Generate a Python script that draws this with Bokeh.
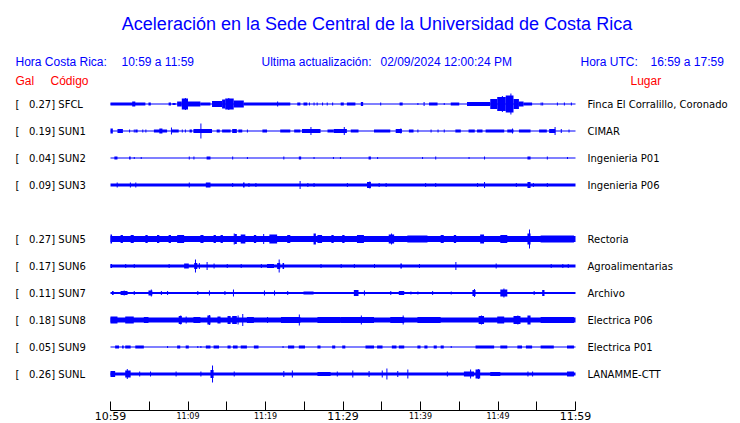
from bokeh.plotting import figure
from bokeh.models import Range1d, LinearAxis, FixedTicker, ColumnDataSource
from bokeh.core.properties import value
from bokeh.embed import file_html
from bokeh.resources import INLINE

# ---------------- data ----------------
ROWS = [0, 1, 2, 3, 5, 6, 7, 8, 9, 10]
GAL = [0.27, 0.19, 0.04, 0.09, 0.27, 0.17, 0.11, 0.18, 0.05, 0.26]
CODES = ["SFCL", "SUN1", "SUN2", "SUN3", "SUN5", "SUN6", "SUN7", "SUN8", "SUN9", "SUNL"]
PLACES = ["Finca El Corralillo, Coronado", "CIMAR", "Ingenieria P01", "Ingenieria P06",
          "Rectoria", "Agroalimentarias", "Archivo", "Electrica P06", "Electrica P01", "LANAMME-CTT"]

# background envelope half-amplitude of each trace (display px)
BASE = [0.5, 0.5, 0.5, 1.5, 3.0, 1.5, 1.0, 2.5, 0.5, 1.5]

# bursts: (start minute, end minute, half amplitude)
SFCL_B = [(0, 4.5, 1.5), (2.8, 3.2, 2.5), (4.9, 5.2, 1.5), (7.5, 7.8, 1.5), (8.0, 8.4, 1.0), (8.6, 9.2, 2.5),
          (9.2, 10.0, 5.5), (10.0, 11.6, 2.5), (11.6, 12.9, 1.5), (13.1, 14.4, 3.0), (14.4, 14.8, 4.5),
          (14.8, 15.9, 5.5), (15.9, 17.2, 3.5), (17.2, 23.2, 1.5), (24.1, 24.5, 1.5), (24.9, 25.4, 1.5),
          (29.7, 30.1, 1.5), (30.5, 31.6, 1.5), (32.3, 32.6, 2.0), (37.3, 37.7, 1.5), (41.1, 42.2, 1.5),
          (43.9, 45.0, 1.5), (46.0, 49.0, 2.0), (49.0, 49.9, 5.0), (49.9, 51.0, 7.0), (51.0, 52.0, 8.5),
          (52.0, 52.7, 5.0), (52.7, 53.3, 2.5), (53.3, 54.4, 1.5)]
SUN1_B = [(0, 0.3, 2.5), (0.9, 1.6, 2.0), (3.2, 3.5, 1.5), (5.6, 7.3, 1.5), (6.3, 6.7, 2.5), (7.9, 8.8, 1.5),
          (10.2, 10.5, 1.5), (10.7, 13.1, 2.0), (13.7, 14.1, 1.5), (14.4, 15.5, 1.5), (15.7, 16.3, 2.0),
          (16.5, 17.0, 1.5), (19.6, 20.2, 1.5), (21.9, 23.2, 1.5), (23.7, 24.5, 1.5), (24.7, 27.1, 2.0),
          (28.0, 28.8, 1.5), (28.8, 30.5, 2.0), (31.0, 32.0, 1.5), (34.0, 36.1, 1.5), (36.8, 37.6, 2.0),
          (38.5, 39.1, 1.5), (44.5, 45.2, 1.5), (46.2, 47.0, 1.5), (47.3, 48.0, 1.5), (48.4, 50.8, 1.5),
          (51.2, 52.0, 1.5), (52.7, 54.2, 1.5), (55.3, 56.3, 1.5), (56.6, 57.4, 2.0)]
SUN2_B = [(0.5, 0.9, 1.5), (2.4, 2.6, 1.5), (12.4, 12.9, 1.5), (24.3, 24.6, 1.5), (33.3, 33.6, 1.5),
          (53.8, 54.2, 1.5)]
SUN3_B = [(12.3, 12.9, 2.5), (17.1, 17.3, 2.5), (33.1, 33.6, 3.0), (53.8, 54.2, 3.0)]
SUN5_B = [(0, 0.2, 4.5), (1.3, 1.6, 4.0), (2.6, 3.0, 4.0), (4.5, 4.8, 4.0), (6.0, 6.3, 4.0), (7.5, 7.8, 4.0),
          (8.6, 9.5, 4.0), (11.6, 12.0, 4.0), (13.3, 13.6, 4.0), (14.2, 14.5, 4.0), (16.0, 16.3, 5.0),
          (16.8, 17.4, 4.5), (18.5, 18.8, 4.0), (20.5, 21.5, 4.5), (22.8, 23.2, 4.0), (26.2, 26.5, 5.5),
          (26.7, 27.3, 4.0), (28.5, 28.8, 4.0), (29.9, 30.2, 4.0), (31.8, 32.7, 4.0), (35.9, 36.6, 4.5),
          (38.3, 40.9, 3.5), (42.6, 43.0, 4.0), (44.3, 44.6, 4.0), (47.7, 48.2, 4.5), (50.3, 51.2, 4.0),
          (53.8, 54.2, 5.5), (55.5, 59.8, 3.5)]
SUN6_B = [(0, 0.2, 2.0), (9.5, 10.1, 2.5), (10.8, 11.2, 3.0), (20.2, 21.1, 2.0), (21.5, 21.9, 3.0),
          (22.2, 22.4, 3.0), (37.4, 37.6, 2.5)]
SUN7_B = [(0.2, 0.4, 2.0), (1.3, 2.2, 2.0), (4.9, 5.4, 2.5), (24.9, 26.2, 1.5), (31.4, 32.0, 3.0),
          (37.2, 37.9, 2.0), (46.7, 47.1, 3.0), (50.3, 51.2, 3.5), (55.7, 56.0, 3.0)]
SUN8_B = [(0, 0.9, 3.5), (1.9, 3.0, 3.5), (4.3, 4.9, 3.0), (8.8, 9.2, 4.0), (10.7, 11.6, 3.0),
          (12.5, 12.9, 4.5), (13.8, 14.2, 3.5), (15.1, 15.5, 4.0), (15.7, 16.3, 4.0), (17.6, 18.5, 3.0),
          (22.0, 24.5, 3.0), (26.7, 29.7, 3.0), (29.7, 34.0, 3.0), (36.1, 37.9, 3.0), (39.6, 42.6, 3.0),
          (47.5, 48.2, 4.0), (49.9, 50.8, 3.5), (52.0, 52.9, 4.0), (53.8, 54.2, 4.5), (55.5, 59.8, 3.0)]
SUN9_B = [(0.6, 1.1, 1.5), (1.5, 1.7, 1.5), (1.9, 2.6, 1.5), (3.2, 4.3, 1.5), (8.6, 9.0, 1.5), (9.7, 10.1, 1.5),
          (12.3, 12.9, 1.5), (13.3, 14.0, 1.5), (15.1, 15.5, 1.5), (15.8, 16.4, 1.5), (16.8, 17.6, 1.5),
          (18.5, 19.1, 1.5), (22.9, 23.7, 1.5), (24.3, 25.1, 1.5), (26.7, 27.1, 1.5), (28.6, 29.0, 1.5),
          (29.9, 30.3, 1.5), (32.9, 34.0, 1.5), (34.4, 35.1, 1.5), (36.3, 36.9, 1.5), (37.2, 37.9, 1.5),
          (39.6, 40.0, 1.5), (40.5, 40.9, 1.5), (41.7, 42.1, 1.5), (42.6, 43.0, 1.5), (47.1, 49.5, 1.5),
          (50.3, 51.2, 1.5), (52.5, 53.1, 1.5), (53.6, 54.4, 1.5), (55.5, 57.2, 1.5), (58.9, 59.8, 1.5)]
SUNL_B = [(0, 0.6, 3.0), (1.9, 2.6, 3.5), (12.9, 13.3, 4.0), (26.7, 28.4, 2.0), (45.6, 46.9, 2.5),
          (47.1, 47.7, 4.5), (49.0, 50.3, 2.0), (58.9, 59.8, 2.5)]

# single spikes: (minute, half amplitude)
SFCL_S = [(9.6, 6.0), (15.2, 6.0), (21.5, 2.5), (25.6, 1.5), (26.2, 1.5), (26.6, 1.5), (27.3, 1.5), (27.9, 1.5),
          (28.6, 1.5), (34.8, 1.5), (39.6, 1.0), (40.4, 2.0), (43.0, 1.0), (50.5, 8.0), (51.6, 10.5),
          (55.5, 1.5), (55.7, 1.5), (57.6, 1.5), (58.5, 1.5), (59.4, 1.5)]
SUN1_S = [(2.4, 1.5), (3.0, 1.5), (4.1, 1.5), (4.5, 1.5), (7.8, 3.5), (9.2, 1.5), (9.6, 1.5), (11.6, 7.5),
          (17.6, 1.5), (25.8, 4.0), (30.1, 4.0), (37.4, 2.5), (39.6, 1.5), (41.3, 1.5), (42.2, 1.5), (43.0, 1.5),
          (51.8, 2.5), (57.3, 4.0), (58.1, 2.0), (59.1, 1.5)]
SUN2_S = [(3.0, 1.0), (3.9, 1.0), (10.1, 1.5), (10.7, 1.5), (15.7, 1.5), (17.6, 1.0), (22.3, 1.5), (26.2, 1.0),
          (28.7, 1.0), (29.6, 1.0), (34.4, 1.0), (40.2, 1.0), (41.9, 1.5), (46.2, 1.0), (48.2, 1.5), (56.3, 1.5),
          (58.9, 1.0)]
SUN3_S = [(0.8, 2.5), (2.5, 2.5), (3.2, 2.5), (10.1, 2.5), (15.7, 2.0), (17.8, 2.0), (18.7, 2.0), (24.4, 4.0),
          (25.4, 2.0), (26.2, 2.0), (30.5, 2.0), (33.4, 3.5), (34.6, 2.0), (35.5, 2.0), (40.6, 2.0), (41.9, 2.0),
          (47.3, 2.0), (48.2, 3.0), (52.3, 2.0), (54.5, 2.0), (56.3, 2.0)]
SUN5_S = [(15.9, 5.5), (19.7, 5.0), (36.2, 5.5), (54.0, 9.5)]
SUN6_S = [(1.9, 2.0), (3.0, 2.0), (7.5, 2.0), (10.9, 6.5), (11.4, 3.0), (12.4, 4.0), (13.3, 2.5), (15.0, 2.0),
          (16.8, 2.0), (19.4, 2.0), (21.7, 6.5), (27.1, 2.0), (29.7, 2.0), (31.4, 2.0), (34.0, 2.0), (39.8, 2.0),
          (44.5, 4.0), (49.7, 2.5), (56.8, 2.0), (58.3, 2.0), (59.0, 2.0)]
SUN7_S = [(1.7, 2.5), (3.0, 2.0), (5.2, 3.5), (6.5, 2.0), (7.3, 2.0), (11.2, 2.0), (12.7, 2.5), (14.7, 2.0),
          (15.8, 3.5), (19.8, 2.5), (21.1, 2.5), (22.8, 2.0), (32.7, 2.5), (36.1, 2.0), (38.7, 1.5), (39.6, 1.5),
          (41.5, 2.0), (43.9, 1.5), (46.9, 4.0), (50.7, 4.5), (54.6, 2.0)]
SUN8_S = [(9.0, 4.5), (9.7, 3.5), (12.7, 5.0), (16.4, 4.5), (17.0, 6.0), (20.2, 3.0), (24.3, 5.5), (32.3, 4.5),
          (37.7, 4.5), (47.8, 4.5), (52.5, 4.5)]
SUN9_S = [(7.3, 1.0), (11.2, 1.0), (11.6, 1.0), (22.2, 1.0), (43.9, 1.0)]
SUNL_S = [(2.1, 5.0), (3.7, 2.5), (5.1, 2.5), (8.4, 2.5), (11.6, 2.5), (13.1, 8.5), (15.9, 2.5), (22.3, 3.0),
          (23.4, 3.5), (29.2, 2.5), (31.2, 3.5), (33.3, 3.0), (35.0, 3.5), (35.6, 5.5), (37.0, 3.0), (38.3, 4.5),
          (43.4, 2.5), (46.4, 4.5), (47.4, 5.0), (53.8, 2.5), (54.4, 2.5)]

BURSTS = [SFCL_B, SUN1_B, SUN2_B, SUN3_B, SUN5_B, SUN6_B, SUN7_B, SUN8_B, SUN9_B, SUNL_B]
SPIKES = [SFCL_S, SUN1_S, SUN2_S, SUN3_S, SUN5_S, SUN6_S, SUN7_S, SUN8_S, SUN9_S, SUNL_S]

WINDOW_MIN = 60
TICKS = list(range(0, 61, 5))
BIG_LABELS = {0: "10:59", 30: "11:29", 60: "11:59"}
SMALL_LABELS = {10: "11:09", 20: "11:19", 40: "11:39", 50: "11:49"}

TITLE = "Aceleración en la Sede Central de la Universidad de Costa Rica"

# ---------------- layout ----------------
W, H = 740, 423
OX, OY = 0, 0             # canvas origin in reference pixels (the page template has no margin)
X0, PPM = 110.0, 465.0 / 60.0
ROW0, ROWH = 103.5, 27.0


def X(px):
    return (px - X0) / PPM


def Y(py):
    return (py - ROW0) / ROWH


BLUE = "#0000FF"
RED = "#FF0000"
NB = "\u00a0"

p = figure(width=W, height=H, x_range=Range1d(X(OX), X(OX + W)), y_range=Range1d(Y(OY + H), Y(OY)),
           output_backend="svg", toolbar_location=None, x_axis_location=None, y_axis_location=None,
           min_border=0, outline_line_color=None, background_fill_color="white",
           border_fill_color="white")
p.grid.visible = False

# traces
L, R, T, B = [], [], [], []
spike_w = 1.0 / PPM
for row, base, bursts, spikes in zip(ROWS, BASE, BURSTS, SPIKES):
    segs = [(0, WINDOW_MIN, base)] + list(bursts) + [(t, t + spike_w, a) for t, a in spikes]
    for t0, t1, a in segs:
        L.append(t0)
        R.append(t1)
        T.append(row - a / ROWH)
        B.append(row + a / ROWH)
src = ColumnDataSource(dict(left=L, right=R, top=T, bottom=B))
p.quad(left="left", right="right", top="top", bottom="bottom", source=src,
       fill_color=BLUE, line_color=None)

# station labels
left_txt = ["[" + NB * 3 + "%.2f] %s" % (g, c) for g, c in zip(GAL, CODES)]
lab_y = [r + 0.5 / ROWH for r in ROWS]
p.text(x=[X(15)] * len(ROWS), y=lab_y, text=left_txt, text_font=value("DejaVu Sans"),
       text_font_size="10px", text_color="black", text_baseline="middle", text_align="left")
p.text(x=[X(587)] * len(ROWS), y=lab_y, text=PLACES, text_font=value("DejaVu Sans"),
       text_font_size="10px", text_color="black", text_baseline="middle", text_align="left")

# title & headers
p.text(x=[X(376.5)], y=[Y(23.5)], text=[TITLE], text_font=value("Liberation Sans"), text_font_size="18px",
       text_color=BLUE, text_align="center", text_baseline="middle")
hx = [15, 121, 261, 380, 580, 650]
ht = ["Hora Costa Rica:", "10:59 a 11:59", "Ultima actualización:", "02/09/2024 12:00:24 PM",
      "Hora UTC:", "16:59 a 17:59"]
p.text(x=[X(v) for v in hx], y=[Y(61)] * len(hx), text=ht, text_font=value("Liberation Sans"),
       text_font_size="12px", text_color=BLUE, text_align="left", text_baseline="middle")
p.text(x=[X(15), X(50), X(630)], y=[Y(80.7)] * 3, text=["Gal", "Código", "Lugar"],
       text_font=value("Liberation Sans"), text_font_size="12px", text_color=RED, text_align="left",
       text_baseline="middle")

# time axis (ticks)
axis_y = Y(409.5)
ax = LinearAxis(fixed_location=axis_y, ticker=FixedTicker(ticks=TICKS), bounds=(0, WINDOW_MIN),
                major_tick_in=9, major_tick_out=0, minor_tick_line_color=None,
                axis_line_color="black", major_tick_line_color="black",
                major_label_text_font_size="0px",
                major_label_overrides={t: "" for t in TICKS})
p.add_layout(ax, "below")
ax_big = LinearAxis(fixed_location=axis_y, ticker=FixedTicker(ticks=list(BIG_LABELS)),
                    major_label_overrides=BIG_LABELS, axis_line_color=None, major_tick_line_color=None,
                    minor_tick_line_color=None, major_tick_in=0, major_tick_out=0,
                    major_label_standoff=0, major_label_text_font="DejaVu Sans",
                    major_label_text_font_size="11px", major_label_text_color="black")
p.add_layout(ax_big, "below")
ax_small = LinearAxis(fixed_location=axis_y, ticker=FixedTicker(ticks=list(SMALL_LABELS)),
                      major_label_overrides=SMALL_LABELS, axis_line_color=None, major_tick_line_color=None,
                      minor_tick_line_color=None, major_tick_in=0, major_tick_out=0,
                      major_label_standoff=2, major_label_text_font="DejaVu Sans",
                      major_label_text_font_size="8px", major_label_text_color="black")
p.add_layout(ax_small, "below")

open("out.html", "w").write(file_html(p, INLINE))
